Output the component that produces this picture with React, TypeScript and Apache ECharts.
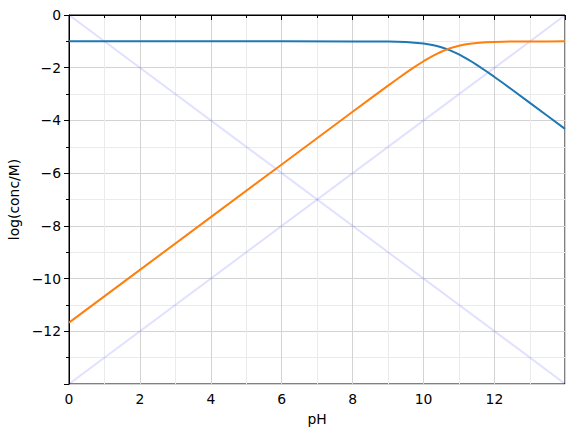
import React, { useEffect, useRef } from "react";
import * as echarts from "echarts";

// pH sample points
const pH = [0, 2, 4, 6, 8, 8.5, 9, 9.25, 9.5, 9.75, 10, 10.125, 10.25, 10.375, 10.5, 10.625, 10.75, 10.875, 11, 11.125, 11.25, 11.375, 11.5, 11.75, 12, 12.25, 12.5, 13, 13.5, 13.99];
// log[HA] (blue)
const logHA = [-1.0, -1.0, -1.0, -1.0, -1.001, -1.003, -1.009, -1.016, -1.028, -1.049, -1.084, -1.109, -1.14, -1.178, -1.224, -1.279, -1.343, -1.416, -1.497, -1.586, -1.681, -1.783, -1.89, -2.115, -2.35, -2.591, -2.836, -3.332, -3.831, -4.32];
// log[A-] (orange)
const logA = [-11.67, -9.67, -7.67, -5.67, -3.671, -3.173, -2.679, -2.436, -2.198, -1.969, -1.754, -1.654, -1.56, -1.473, -1.394, -1.324, -1.263, -1.211, -1.167, -1.131, -1.101, -1.078, -1.06, -1.035, -1.02, -1.011, -1.006, -1.002, -1.001, -1.0];
// log[H+] and log[OH-] guide lines (endpoints)
const hLine = [[0, 0], [13.99, -13.99]];
const ohLine = [[0, -14], [13.99, -0.01]];

const fmt = (v: number) => (v < 0 ? "\u2212" + Math.abs(v) : String(v));

export default function App() {
  const ref = useRef<HTMLDivElement>(null);
  useEffect(() => {
    const chart = echarts.init(ref.current!, undefined, { renderer: "svg" });
    const font = "DejaVu Sans";
    chart.setOption({
      animation: false,
      grid: {
        left: 69, top: 15, width: 496, height: 369,
        outerBoundsMode: "none", containLabel: false,
        show: true, borderColor: "#000", borderWidth: 1, backgroundColor: "transparent",
      },
      xAxis: {
        type: "value",
        min: 0,
        max: 13.99,
        interval: 2,
        name: "pH",
        nameLocation: "middle",
        nameGap: 28,
        nameTextStyle: { fontFamily: font, fontSize: 13.9, color: "#000" },
        axisLine: { show: true, lineStyle: { color: "#000", width: 1 } },
        axisTick: { show: true, length: 5, lineStyle: { color: "#000" } },
        minorTick: { show: true, splitNumber: 2, length: 3, lineStyle: { color: "#000" } },
        axisLabel: {
          fontFamily: font, fontSize: 13.9, color: "#000", margin: 8,
          formatter: (v: number) => (Number.isInteger(v) ? fmt(v) : ""),
        },
        splitLine: { show: true, lineStyle: { color: "#d3d3d3", width: 1 } },
        minorSplitLine: { show: true, lineStyle: { color: "#ebebeb", width: 1 } },
      },
      yAxis: {
        type: "value",
        min: -14,
        max: 0,
        interval: 2,
        name: "log(conc/M)",
        nameLocation: "middle",
        nameGap: 45,
        nameTextStyle: { fontFamily: font, fontSize: 13.9, color: "#000" },
        axisLine: { show: true, lineStyle: { color: "#000", width: 1 } },
        axisTick: { show: true, length: 5, lineStyle: { color: "#000" } },
        minorTick: { show: true, splitNumber: 2, length: 3, lineStyle: { color: "#000" } },
        axisLabel: {
          fontFamily: font,
          fontSize: 13.9,
          color: "#000",
          margin: 8,
          formatter: (v: number) => (v <= -14 ? "" : fmt(v)),
        },
        splitLine: { show: true, lineStyle: { color: "#d3d3d3", width: 1 } },
        minorSplitLine: { show: true, lineStyle: { color: "#ebebeb", width: 1 } },
      },
      series: [
        { type: "line", data: hLine, showSymbol: false, lineStyle: { color: "rgba(0,0,255,0.12)", width: 2 }, z: 1 },
        { type: "line", data: ohLine, showSymbol: false, lineStyle: { color: "rgba(0,0,255,0.12)", width: 2 }, z: 1 },
        {
          type: "line",
          data: pH.map((x, i) => [x, logHA[i]]),
          showSymbol: false,
          lineStyle: { color: "#1f77b4", width: 2 },
          z: 3,
        },
        {
          type: "line",
          data: pH.map((x, i) => [x, logA[i]]),
          showSymbol: false,
          lineStyle: { color: "#ff7f0e", width: 2 },
          z: 3,
        },
      ],
    });
    return () => chart.dispose();
  }, []);
  return <div ref={ref} style={{ position: "absolute", left: 0, top: 0, width: 574, height: 438 }} />;
}
